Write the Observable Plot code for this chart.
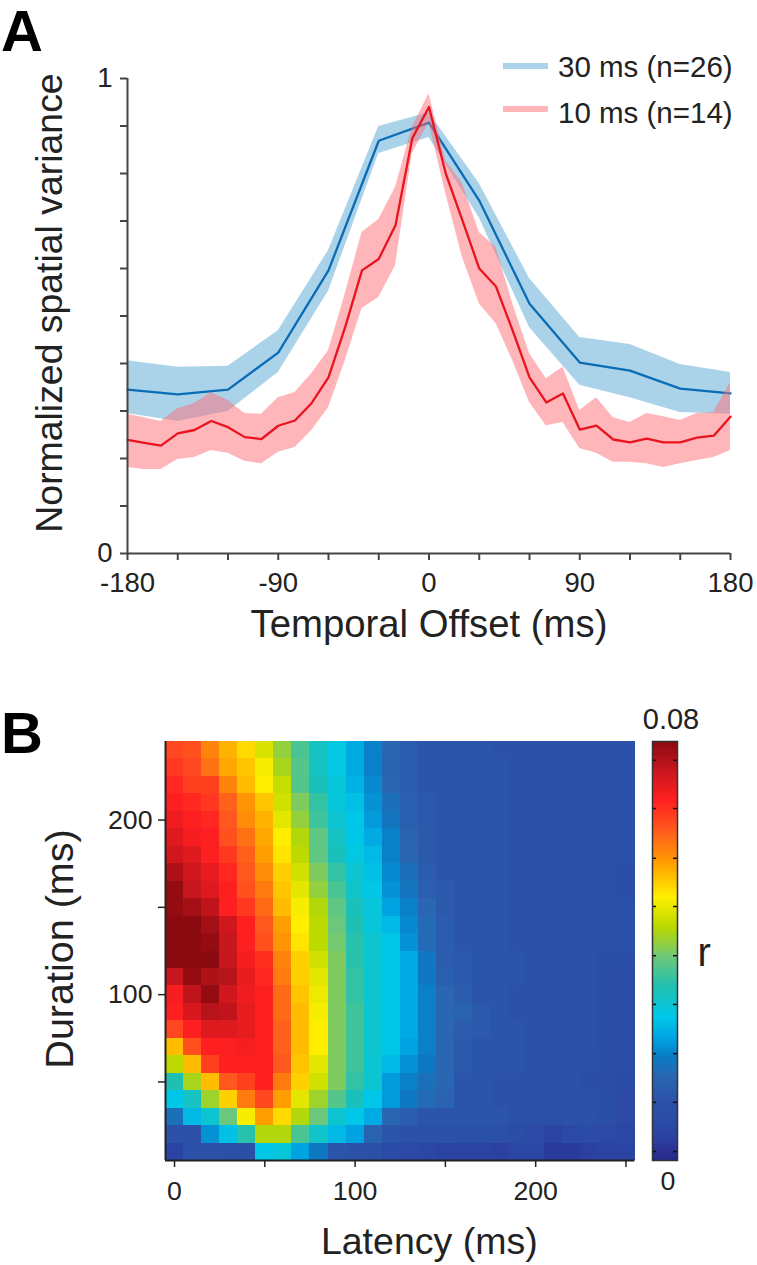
<!DOCTYPE html>
<html><head><meta charset="utf-8">
<script src="https://cdn.jsdelivr.net/npm/d3@7"></script>
<script src="https://cdn.jsdelivr.net/npm/@observablehq/plot@0.6"></script>
<style>
html,body{margin:0;padding:0;background:#fff}
#page{position:relative;width:757px;height:1265px;overflow:hidden;font-family:"Liberation Sans",Arial,sans-serif;color:#222}
#page>div{position:absolute}
#page svg{display:block;background:transparent;overflow:visible}
.letter{font-weight:bold;font-size:58px;line-height:58px;color:#000}
.leg{font-size:29.5px;line-height:30px;white-space:nowrap;color:#222}
.sw{height:6px;width:45px}
</style></head><body><div id="page"></div>
<script>
const blueX=[-180,-150,-120,-90,-60,-30,0,30,60,90,120,150,180];
const blueMean=[.345,.335,.345,.423,.596,.869,.907,.743,.526,.402,.385,.347,.337];
const blueUpper=[.406,.392,.394,.469,.638,.899,.928,.779,.579,.455,.440,.398,.381];
const blueLower=[.295,.278,.299,.381,.552,.842,.876,.707,.476,.354,.328,.297,.293];
const redX=[-180,-170,-160,-150,-140,-130,-120,-110,-100,-90,-80,-70,-60,-50,-40,-30,-20,-10,0,10,20,30,40,50,60,70,80,90,100,110,120,130,140,150,160,170,180];
const redMean=[.239,.233,.227,.253,.260,.279,.266,.245,.241,.269,.280,.317,.371,.477,.596,.620,.691,.874,.940,.800,.701,.600,.562,.469,.371,.318,.337,.261,.269,.240,.234,.242,.234,.234,.244,.248,.288];
const redUpper=[.293,.286,.278,.305,.316,.339,.322,.295,.293,.328,.339,.379,.427,.547,.676,.703,.771,.897,.968,.827,.779,.676,.644,.526,.421,.368,.392,.301,.328,.286,.276,.295,.288,.280,.295,.297,.360];
const redLower=[.181,.177,.177,.198,.202,.217,.211,.194,.189,.213,.223,.259,.307,.406,.516,.539,.606,.842,.907,.758,.623,.526,.484,.406,.318,.269,.276,.221,.211,.192,.192,.189,.181,.189,.196,.202,.217];

const latencies=[0,10,20,30,40,50,60,70,80,90,100,110,120,130,140,150,160,170,180,190,200,210,220,230,240,250];
const durations=[240,230,220,210,200,190,180,170,160,150,140,130,120,110,100,90,80,70,60,50,40,30,20,10];
// r as percent of the colour-bar range (0.08)
const heat=[
[81,80,74,69,65,59,52,45,39,35,30,25,20,17,15,15,15,15,14,14,14,14,14,14,13,13],
[83,81,76,70,67,62,54,46,39,35,30,25,19,17,15,15,15,15,15,14,14,14,14,14,13,13],
[85,82,82,74,68,63,57,46,40,36,31,26,20,17,15,15,15,15,15,14,14,14,14,14,13,13],
[86,85,83,78,72,67,58,50,43,36,33,27,22,18,16,15,15,15,15,14,14,12,14,14,13,13],
[88,86,85,79,73,69,60,52,44,37,34,28,23,18,16,15,15,15,15,14,14,12,14,14,13,13],
[90,87,86,80,76,70,63,55,47,39,34,30,25,19,16,15,15,15,15,14,14,14,14,13,13,13],
[92,90,86,83,78,71,64,56,47,40,35,32,25,20,16,15,15,15,15,14,13,13,14,14,12,13],
[96,92,89,85,79,73,66,58,50,43,37,33,26,22,17,15,15,15,15,14,12,12,14,14,13,11],
[99,93,90,86,80,75,67,60,52,45,38,34,27,23,18,16,15,15,15,14,12,12,14,14,13,11],
[99,97,94,86,83,77,68,62,55,47,40,36,29,25,20,16,15,15,15,14,14,14,14,14,13,12],
[100,100,97,92,86,79,71,63,56,48,41,36,32,26,21,17,15,15,15,14,14,14,14,13,13,12],
[100,100,99,93,86,80,72,64,56,49,42,37,34,27,21,17,15,15,15,14,14,14,14,13,13,12],
[100,100,100,93,87,84,74,66,58,50,42,37,34,30,24,17,16,15,15,15,14,14,14,14,11,11],
[93,99,96,95,89,85,75,66,60,50,43,37,34,30,24,18,16,15,15,15,14,14,14,14,11,10],
[87,94,99,92,88,86,77,67,61,50,43,37,34,30,25,20,17,15,15,13,14,14,14,14,11,10],
[86,91,95,94,89,86,77,68,62,50,44,37,34,30,25,20,19,16,15,13,13,14,14,14,11,10],
[81,86,90,90,89,86,78,68,63,50,44,37,34,30,25,20,17,16,15,15,14,14,14,14,11,10],
[68,80,86,86,87,86,78,68,63,50,44,37,34,29,25,20,16,15,15,15,14,14,14,14,11,10],
[56,68,82,86,86,86,79,67,60,50,44,37,32,27,24,20,16,15,15,15,13,14,14,12,11,10],
[41,54,68,79,82,86,75,66,58,50,43,37,28,25,22,20,15,15,14,14,14,14,14,11,10,9],
[34,39,53,66,75,81,71,60,53,46,40,34,28,24,21,19,15,15,14,14,14,14,14,12,11,8],
[22,32,37,48,62,71,65,55,48,37,34,30,20,17,15,15,15,15,15,12,12,12,14,13,11,8],
[14,14,27,33,42,55,55,45,38,32,29,19,15,14,13,13,12,12,12,10,8,6,8,9,8,7],
[6,13,13,12,11,34,36,29,24,15,14,12,9,8,7,6,6,6,5,7,7,4,4,5,6,6]
];
const cells=heat.flatMap((row,j)=>row.map((v,i)=>({lat:latencies[i],dur:durations[j],r:v*0.0008})));

const colorPos=[0,.02,.05,.09,.14,.20,.246,.286,.341,.413,.485,.556,.628,.708,.788,.859,.93,1];
const colorHex=["#28288c","#2a3090","#2b40a0","#2b4ca6","#2b52a8","#2a66b2","#0a7cc4","#00a0e0","#00c8e8","#20c0b0","#70c878","#b8d800","#fff000","#ffa000","#ff5a1e","#ff2020","#c8161e","#8b0a10"];
const colorOpt={type:"linear",domain:colorPos.map(t=>t*0.08),range:colorHex,clamp:true};
const barTicks=[.0017,.0111,.0204,.0298,.0391,.0485,.0577,.0672,.0764];

const page=document.getElementById("page");
function place(el,top,left){const d=document.createElement("div");d.style.top=top+"px";d.style.left=left+"px";d.appendChild(el);page.appendChild(d);return d;}
function html(cls,txt,top,left){const e=document.createElement("div");e.className=cls;e.textContent=txt;place(e,top,left);return e;}

const rows=(X,M,U,L)=>X.map((x,i)=>({x,m:M[i],u:U[i],l:L[i]}));
const blue=rows(blueX,blueMean,blueUpper,blueLower), red=rows(redX,redMean,redUpper,redLower);
const ax="#444";
const pa=Plot.plot({
  width:757,height:650,marginTop:78,marginBottom:97,marginLeft:127,marginRight:27,
  style:{fontFamily:"'Liberation Sans',Arial,sans-serif",color:"#222",background:"transparent"},
  x:{domain:[-180,180]},y:{domain:[0,1]},
  marks:[
    Plot.areaY(blue,{x:"x",y1:"l",y2:"u",fill:"#55a8d6",fillOpacity:.5}),
    Plot.line(blue,{x:"x",y:"m",stroke:"#0a6cb4",strokeWidth:2.3}),
    Plot.areaY(red,{x:"x",y1:"l",y2:"u",fill:"#ff6d77",fillOpacity:.5}),
    Plot.line(red,{x:"x",y:"m",stroke:"#e8141e",strokeWidth:2.3}),
    Plot.ruleY([0],{stroke:ax,strokeWidth:2}),
    Plot.ruleX([-180],{stroke:ax,strokeWidth:2}),
    Plot.axisX({ticks:d3.range(-180,181,30),tickSize:7,tickPadding:12,fontSize:27.5,stroke:ax,strokeWidth:2,label:null,
      tickFormat:d=>d%90===0?String(d):""}),
    Plot.axisY({ticks:d3.range(0,1.01,.1),tickSize:7,tickPadding:8,fontSize:27.5,stroke:ax,strokeWidth:2,label:null,
      tickFormat:d=>(Math.abs(d)<1e-9||Math.abs(d-1)<1e-9)?String(Math.round(d)):""}),
    Plot.text(["Temporal Offset (ms)"],{frameAnchor:"bottom",dy:71,fontSize:38.3,fill:"#222",lineAnchor:"middle"}),
    Plot.text(["Normalized spatial variance"],{frameAnchor:"left",textAnchor:"middle",dx:-77,dy:-13,rotate:-90,fontSize:37.4,fill:"#222",lineAnchor:"middle"})
  ]
});
place(pa,0,0);

const pb=Plot.plot({
  width:757,height:565,marginTop:41,marginBottom:105,marginLeft:165,marginRight:122.5,
  style:{fontFamily:"'Liberation Sans',Arial,sans-serif",color:"#222",background:"transparent"},
  x:{domain:[-5,255]},y:{domain:[5,245]},color:colorOpt,
  marks:[
    Plot.rect(cells,{x1:d=>d.lat-5,x2:d=>d.lat+5,y1:d=>d.dur-5,y2:d=>d.dur+5,fill:"r",shapeRendering:"crispEdges"}),
    Plot.ruleY([5],{stroke:"#222",strokeWidth:2}),
    Plot.ruleX([-5],{stroke:"#222",strokeWidth:2}),
    Plot.axisX({ticks:d3.range(0,251,50),tickSize:7,tickPadding:14,fontSize:26.7,stroke:"#222",strokeWidth:1.5,label:null,
      tickFormat:d=>d%100===0?String(d):""}),
    Plot.axisY({ticks:[50,100,150,200],tickSize:7,tickPadding:6,fontSize:26.7,stroke:"#222",strokeWidth:1.5,label:null,
      tickFormat:d=>d%100===0?String(d):""}),
    Plot.text(["Latency (ms)"],{frameAnchor:"bottom",dx:29,dy:81,fontSize:37.5,fill:"#222",lineAnchor:"middle"}),
    Plot.text(["Duration (ms)"],{frameAnchor:"left",textAnchor:"middle",dx:-105,dy:-2,rotate:-90,fontSize:39.5,fill:"#222",lineAnchor:"middle"})
  ]
});
place(pb,700,0);

const step=0.08/210;
const barRows=d3.range(0,210).map(i=>({a:i*step,b:(i+1)*step}));
const pc=Plot.plot({
  width:137,height:565,marginTop:41,marginBottom:105,marginLeft:32,marginRight:80,
  style:{fontFamily:"'Liberation Sans',Arial,sans-serif",color:"#222",background:"transparent"},
  x:{axis:null,domain:[0,1]},y:{axis:null,domain:[0,.08]},color:colorOpt,
  marks:[
    Plot.rect(barRows,{x1:0,x2:1,y1:"a",y2:"b",fill:d=>(d.a+d.b)/2,shapeRendering:"crispEdges"}),
    Plot.tickY(barTicks,{y:d=>d,stroke:"#111",strokeWidth:1.5,insetRight:21}),
    Plot.tickY(barTicks,{y:d=>d,stroke:"#111",strokeWidth:1.5,insetLeft:21}),
    Plot.frame({stroke:"#333",strokeWidth:1.5}),
    Plot.text(["0.08"],{frameAnchor:"top",dx:6,dy:-22,fontSize:29,fill:"#222",lineAnchor:"middle"}),
    Plot.text(["0"],{frameAnchor:"bottom",dy:21,dx:3,fontSize:26.7,fill:"#222",lineAnchor:"middle"}),
    Plot.text(["r"],{frameAnchor:"left",textAnchor:"start",dx:45,dy:2,fontSize:40,fill:"#222",lineAnchor:"middle"})
  ]
});
place(pc,700,620);

html("letter","A",2,1);
html("letter","B",704,1);
const s1=document.createElement("div");s1.className="sw";s1.style.background="#aad3ea";place(s1,63,503);
const s2=document.createElement("div");s2.className="sw";s2.style.background="#ffb6bb";place(s2,106,503);
html("leg","30 ms (n=26)",52,558);
html("leg","10 ms (n=14)",98,558);
</script></body></html>
